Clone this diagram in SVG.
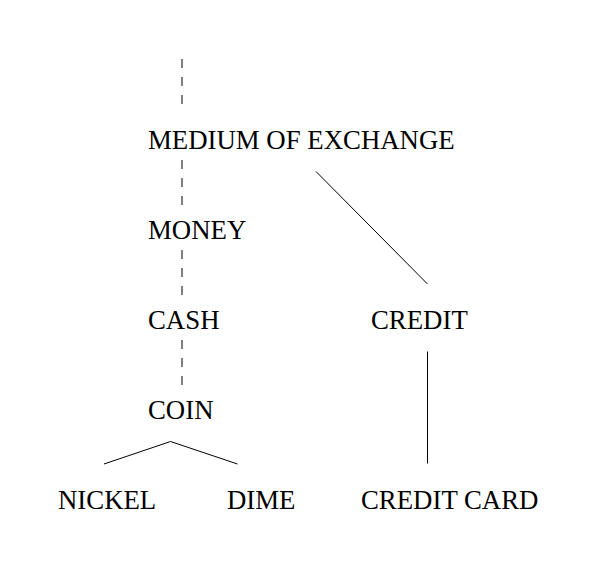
<svg xmlns="http://www.w3.org/2000/svg" width="597" height="569" viewBox="0 0 597 569">
<style>
.t{font-family:"Liberation Serif","Times New Roman",serif;font-size:26.8px;fill:#000}
.l{stroke:#000;stroke-width:1;fill:none}
.d{stroke:#000;stroke-width:1;fill:none;stroke-dasharray:9 9}
</style>
<rect width="597" height="569" fill="#fff"/>
<g id="connectors">
<line class="d" x1="182" y1="59" x2="182" y2="104"/>
<line class="d" x1="182" y1="160" x2="182" y2="205"/>
<line class="d" x1="182" y1="250" x2="182" y2="295"/>
<line class="d" x1="182" y1="340" x2="182" y2="385"/>
<line class="l" x1="316" y1="171.5" x2="427.5" y2="284"/>
<line class="l" x1="427.5" y1="351.5" x2="427.5" y2="463.5"/>
<line class="l" x1="170.5" y1="441.5" x2="104" y2="464"/>
<line class="l" x1="170.5" y1="441.5" x2="237.5" y2="464"/>
</g>
<g id="medium_of_exchange"><text class="t" x="148" y="149">MEDIUM OF EXCHANGE</text></g>
<g id="money"><text class="t" x="148" y="239">MONEY</text></g>
<g id="cash"><text class="t" x="148" y="329">CASH</text></g>
<g id="credit"><text class="t" x="371" y="329">CREDIT</text></g>
<g id="coin"><text class="t" x="148" y="419">COIN</text></g>
<g id="nickel"><text class="t" x="58" y="509">NICKEL</text></g>
<g id="dime"><text class="t" x="227" y="509">DIME</text></g>
<g id="credit_card"><text class="t" x="361" y="509">CREDIT CARD</text></g>
</svg>
